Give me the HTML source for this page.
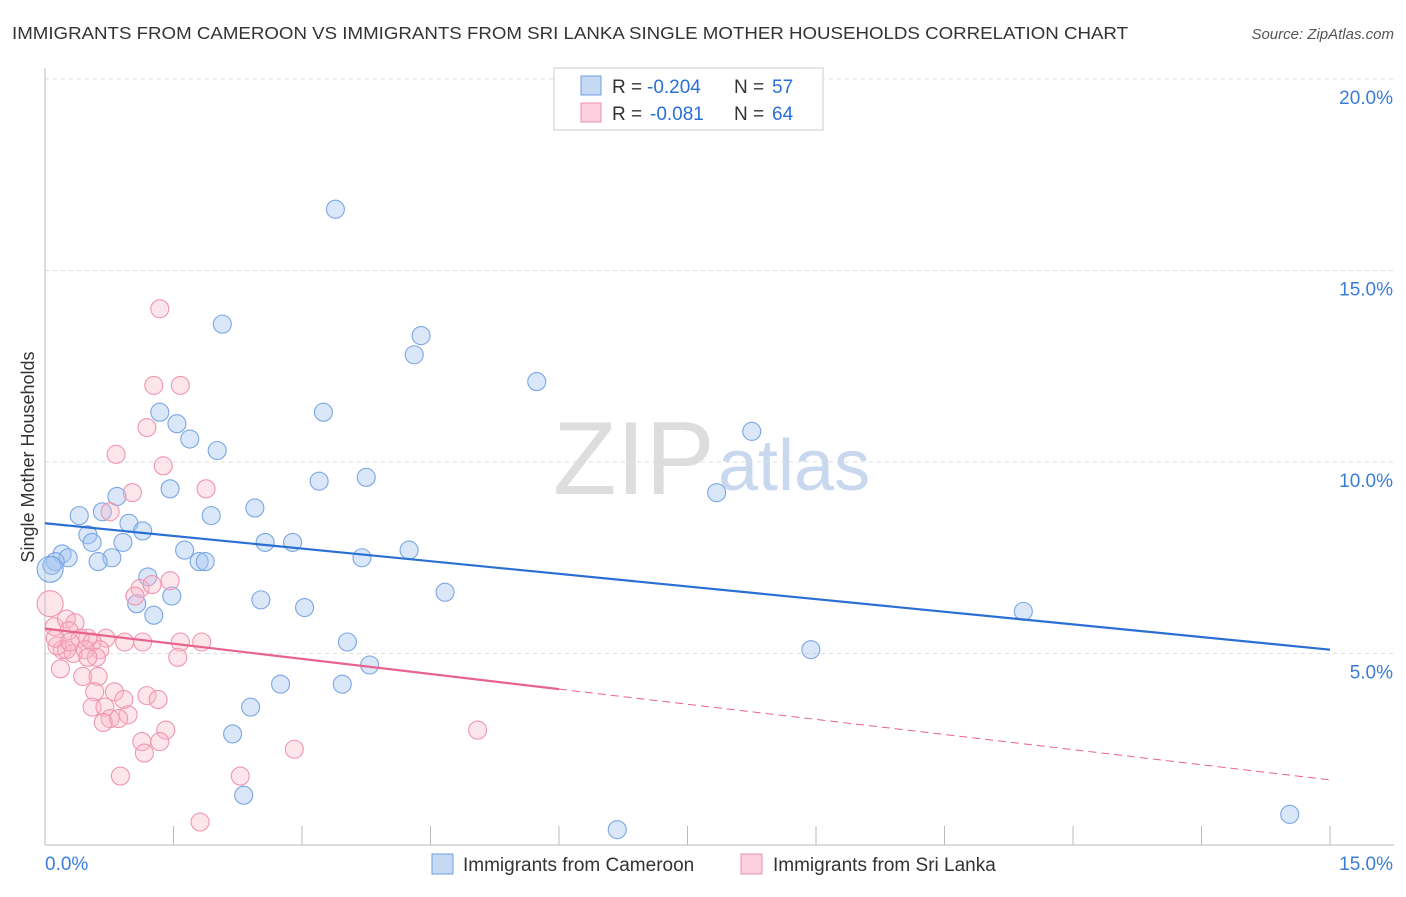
<!DOCTYPE html>
<html><head><meta charset="utf-8"><style>
body{margin:0;background:#fff;font-family:"Liberation Sans",sans-serif}
svg text{font-family:"Liberation Sans",sans-serif}
</style></head><body>
<svg id="chart" width="1406" height="892" xmlns="http://www.w3.org/2000/svg">
<text x="12" y="39" font-size="17.5" fill="#333" textLength="1116" lengthAdjust="spacingAndGlyphs">IMMIGRANTS FROM CAMEROON VS IMMIGRANTS FROM SRI LANKA SINGLE MOTHER HOUSEHOLDS CORRELATION CHART</text>
<text x="1394" y="39" font-size="15" fill="#555" font-style="italic" text-anchor="end">Source: ZipAtlas.com</text>
<text x="553" y="494" font-size="104" fill="#ddd" font-family="Liberation Serif">ZIP</text>
<text x="718" y="490" font-size="72" fill="#c8d8ee">atlas</text>
<g id="grid"></g><g id="axes"></g><g id="marks"></g>
<text transform="translate(34,457) rotate(-90)" font-size="18" fill="#333" text-anchor="middle">Single Mother Households</text>
<g>
<rect x="554" y="68" width="269" height="62" fill="#fff" stroke="#ccc"/>
<rect x="581" y="76" width="20" height="19" fill="#c5d9f5" stroke="#6f9ee0"/>
<rect x="581" y="103" width="20" height="19" fill="#fbd0dc" stroke="#ee8fab"/>
<text x="612" y="93" font-size="19" fill="#333">R =</text>
<text x="647" y="93" font-size="19" fill="#2a6fd4">-0.204</text>
<text x="734" y="93" font-size="19" fill="#333">N =</text>
<text x="772" y="93" font-size="19" fill="#2a6fd4">57</text>
<text x="612" y="120" font-size="19" fill="#333">R =</text>
<text x="650" y="120" font-size="19" fill="#2a6fd4">-0.081</text>
<text x="734" y="120" font-size="19" fill="#333">N =</text>
<text x="772" y="120" font-size="19" fill="#2a6fd4">64</text>
</g>
<g>
<rect x="432" y="854" width="21" height="20" fill="#c5d9f5" stroke="#6f9ee0"/>
<text x="463" y="871" font-size="19" fill="#333">Immigrants from Cameroon</text>
<rect x="741" y="854" width="21" height="20" fill="#fbd0dc" stroke="#ee8fab"/>
<text x="773" y="871" font-size="19" fill="#333">Immigrants from Sri Lanka</text>
</g>
</svg>
<script>
const yTicks=[5,10,15,20];
const yTickLabels=["5.0%","10.0%","15.0%","20.0%"];
const blueX=[3.39,2.07,4.39,4.31,5.74,1.34,3.25,1.54,1.69,8.25,2.01,3.20,3.75,1.46,7.84,0.84,0.67,0.40,1.94,2.45,0.98,1.14,0.50,0.55,0.91,2.57,2.89,1.63,4.25,0.20,0.27,0.12,0.78,0.62,1.80,1.87,3.70,0.08,1.20,1.07,1.48,4.67,2.52,3.03,1.27,11.42,3.53,8.94,3.79,2.75,3.47,2.40,2.19,2.32,6.68,14.53,0.06];
const blueY=[16.6,13.6,13.3,12.8,12.1,11.3,11.3,11.0,10.6,10.8,10.3,9.5,9.6,9.3,9.2,9.1,8.7,8.6,8.6,8.8,8.4,8.2,8.1,7.9,7.9,7.9,7.9,7.7,7.7,7.6,7.5,7.4,7.5,7.4,7.4,7.4,7.5,7.3,7.0,6.3,6.5,6.6,6.4,6.2,6.0,6.1,5.3,5.1,4.7,4.2,4.2,3.6,2.9,1.3,0.4,0.8,7.2];
const blueR=[9,9,9,9,9,9,9,9,9,9,9,9,9,9,9,9,9,9,9,9,9,9,9,9,9,9,9,9,9,9,9,9,9,9,9,9,9,9,9,9,9,9,9,9,9,9,9,9,9,9,9,9,9,9,9,9,13];
const pinkX=[1.34,1.27,1.58,1.19,0.83,1.38,1.88,1.02,0.76,1.11,1.46,1.05,1.25,0.06,0.11,0.25,0.35,0.28,0.50,0.41,0.71,0.55,0.93,1.14,1.58,1.83,0.64,0.20,0.33,0.25,0.47,0.14,0.60,1.55,0.18,0.44,0.62,0.58,0.81,1.19,1.32,0.92,0.55,0.70,0.97,0.76,0.68,0.86,1.41,5.05,1.13,1.34,1.16,2.91,0.88,2.28,1.81,0.12,0.29,0.50];
const pinkY=[14.0,12.0,12.0,10.9,10.2,9.9,9.3,9.2,8.7,6.7,6.9,6.5,6.8,6.3,5.7,5.9,5.8,5.6,5.4,5.4,5.4,5.3,5.3,5.3,5.3,5.3,5.1,5.1,5.0,5.1,5.1,5.2,4.9,4.9,4.6,4.4,4.4,4.0,4.0,3.9,3.8,3.8,3.6,3.6,3.4,3.3,3.2,3.3,3.0,3.0,2.7,2.7,2.4,2.5,1.8,1.8,0.6,5.4,5.3,4.9];
const pinkR=[9,9,9,9,9,9,9,9,9,9,9,9,9,13,9,9,9,9,9,9,9,9,9,9,9,9,9,9,9,9,9,9,9,9,9,9,9,9,9,9,9,9,9,9,9,9,9,9,9,9,9,9,9,9,9,9,9,9,9,9];
const blueTrend=[8.4,5.1];
const pinkTrend=[5.65,1.7];
const pinkSolidEnd=6.0;
const NS="http://www.w3.org/2000/svg";
const X=v=>45+v/15*1285, Y=v=>845-v/5*191.5;
function mk(p,t,a){const e=document.createElementNS(NS,t);for(const k in a)e.setAttribute(k,a[k]);p.appendChild(e);return e;}
const grid=document.getElementById('grid'),axes=document.getElementById('axes'),marks=document.getElementById('marks');
yTicks.forEach((t,i)=>{
 const l=mk(grid,'line',{x1:45,x2:1394,y1:Y(t),y2:Y(t),stroke:'#ddd','stroke-dasharray':'4,4'});
 
 
 const tx=mk(grid,'text',{x:1393,y:Y(t)+25,'font-size':19,fill:'#3b7dd8','text-anchor':'end'});
 tx.textContent=yTickLabels[i];
 
 
});
let a=mk(axes,'line',{x1:45,x2:45,y1:68,y2:845,stroke:'#bbb'});


a=mk(axes,'line',{x1:45,x2:1394,y1:845,y2:845,stroke:'#bbb'});


for(let i=0;i<=10;i++){const t=mk(axes,'line',{x1:X(i*1.5),x2:X(i*1.5),y1:826,y2:845,stroke:'#bbb'});
 
 }
[["0.0%",45,'start'],["15.0%",1393,'end']].forEach(d=>{const t=mk(axes,'text',{x:d[1],y:870,'font-size':19,fill:'#3b7dd8','text-anchor':d[2]});t.textContent=d[0];
 
 });
blueX.forEach((v,i)=>{const c=mk(marks,'circle',{cx:X(v),cy:Y(blueY[i]),r:blueR[i],fill:'rgba(160,195,240,0.4)',stroke:'#7aa6e4','stroke-width':1.1});
 
 });
pinkX.forEach((v,i)=>{const c=mk(marks,'circle',{cx:X(v),cy:Y(pinkY[i]),r:pinkR[i],fill:'rgba(248,180,200,0.35)',stroke:'#f095b0','stroke-width':1.1});
 
 });
let l=mk(marks,'line',{x1:X(0),y1:Y(blueTrend[0]),x2:X(15),y2:Y(blueTrend[1]),stroke:'#2a6fd4','stroke-width':2.2});


const pv=x=>pinkTrend[0]+(pinkTrend[1]-pinkTrend[0])*x/15;
l=mk(marks,'line',{x1:X(0),y1:Y(pv(0)),x2:X(pinkSolidEnd),y2:Y(pv(pinkSolidEnd)),stroke:'#e8638d','stroke-width':2.2});


l=mk(marks,'line',{x1:X(pinkSolidEnd),y1:Y(pv(pinkSolidEnd)),x2:X(15),y2:Y(pv(15)),stroke:'#e8638d','stroke-width':1,'stroke-dasharray':'8,5'});


</script>
</body></html>
